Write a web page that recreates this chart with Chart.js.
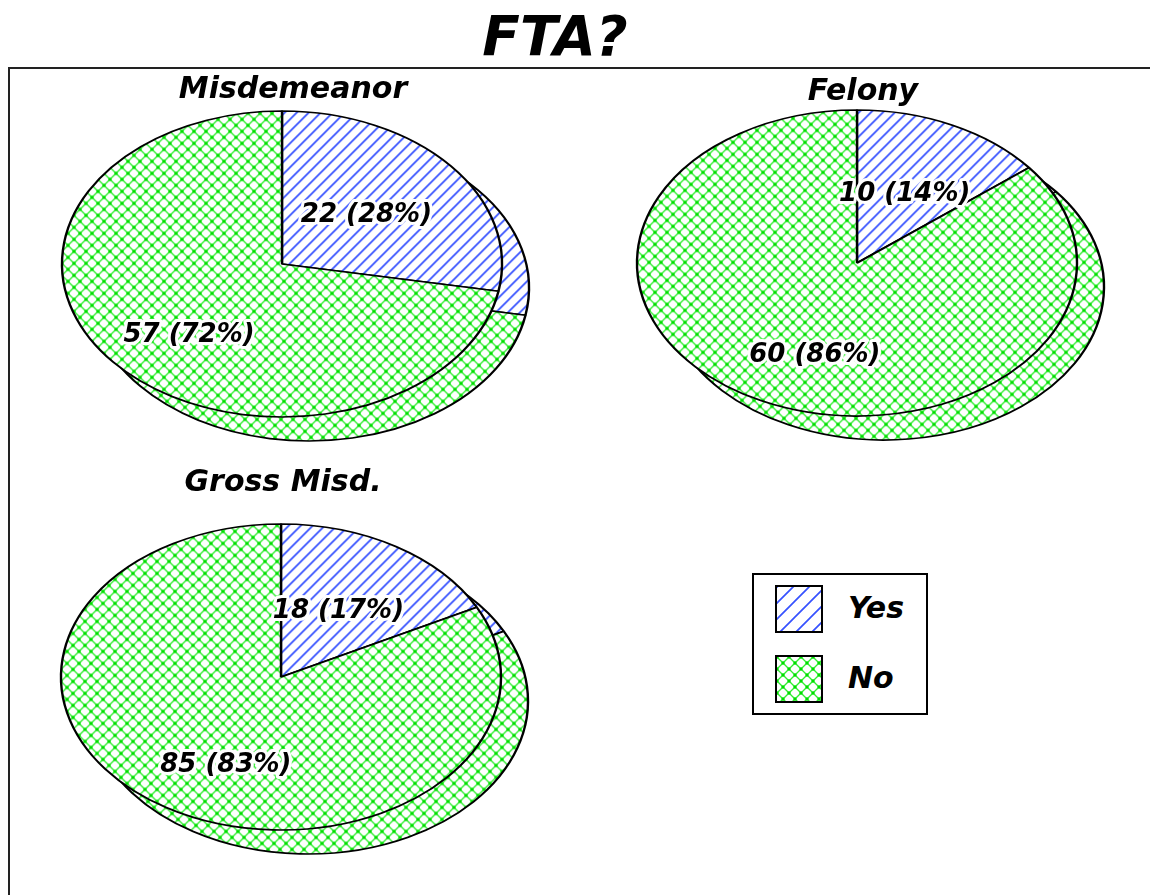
<!DOCTYPE html>
<html>
<head>
<meta charset="utf-8">
<title>FTA?</title>
<script src="https://cdn.jsdelivr.net/npm/chart.js@4.4.0/dist/chart.umd.min.js"></script>
<style>
  html, body { margin: 0; padding: 0; background: #fff; overflow: hidden; }
  body { width: 1150px; height: 895px; position: relative; font-family: 'DejaVu Sans', sans-serif; }
  #main-title { position: absolute; left: 0; top: 5px; width: 1110px; text-align: center;
    font-size: 55px; font-weight: bold; font-style: italic; line-height: 62px; color: #000; }
  #frame { position: absolute; left: 8px; top: 67px; width: 1200px; height: 900px; border: 2px solid #222; }
  canvas.pie { position: absolute; }
  #misd-chart { left: 13px; top: 72px; }
  #felony-chart { left: 583px; top: 74px; }
  #gross-chart { left: 3px; top: 465px; }
  #legend { position: absolute; left: 752px; top: 573px; width: 172px; height: 138px; border: 2px solid #000; background: #fff; }
  .legend-row { position: absolute; left: 21px; height: 48px; }
  .legend-row canvas { position: absolute; left: 0; top: 0; border: 2px solid #000; }
  .legend-row span { position: absolute; left: 73px; top: 0; line-height: 46px; font-size: 30px; font-weight: bold; font-style: italic; }
</style>
</head>
<body>
<div id="main-title">FTA?</div>
<div id="frame"></div>
<canvas id="misd-chart" class="pie" width="560" height="380"></canvas>
<canvas id="felony-chart" class="pie" width="560" height="380"></canvas>
<canvas id="gross-chart" class="pie" width="560" height="400"></canvas>
<div id="legend">
  <div class="legend-row" style="top:10px"><canvas id="swatch-yes" width="44" height="44"></canvas><span>Yes</span></div>
  <div class="legend-row" style="top:80px"><canvas id="swatch-no" width="44" height="44"></canvas><span>No</span></div>
</div>
<script>
// data
const panelTitles = ['Misdemeanor', 'Felony', 'Gross Misd.']
const categories = ['Yes', 'No']
const yesCounts = [22, 10, 18]
const noCounts = [57, 60, 85]

// look of the fake 3d pies
const SQUASH = 153 / 220
const DEPTH_X = 27
const DEPTH_Y = 24
const FONT = "'DejaVu Sans', sans-serif"

const panels = [
    { canvas: 'misd-chart', pieX: 269, pieY: 192 },
    { canvas: 'felony-chart', pieX: 274, pieY: 189 },
    { canvas: 'gross-chart', pieX: 278, pieY: 212 }
]

const hatch = (size, unsquash) => {
    const c = document.createElement('canvas')
    c.width = c.height = size
    const g = c.getContext('2d')
    g.fillStyle = '#fff'
    g.fillRect(0, 0, size, size)
    g.strokeStyle = '#3652ff'
    g.lineWidth = 1.7
    g.beginPath()
    g.moveTo(-1, size + 1); g.lineTo(size + 1, -1)
    g.moveTo(-size / 2, size / 2); g.lineTo(size / 2, -size / 2)
    g.moveTo(size / 2, size * 1.5); g.lineTo(size * 1.5, size / 2)
    g.stroke()
    const p = g.createPattern(c, 'repeat')
    if (unsquash) p.setTransform(new DOMMatrix([1, 0, 0, 1 / SQUASH, 0, 0]))
    return p
}

const crossHatch = (size, unsquash) => {
    const c = document.createElement('canvas')
    c.width = c.height = size
    const g = c.getContext('2d')
    g.fillStyle = '#fff'
    g.fillRect(0, 0, size, size)
    g.strokeStyle = '#30ee30'
    g.lineWidth = 1.35
    g.beginPath()
    g.moveTo(0, 0); g.lineTo(size, size)
    g.moveTo(size, 0); g.lineTo(0, size)
    g.stroke()
    g.fillStyle = '#00dd00'
    for (const [x, y] of [[0, 0], [size, 0], [0, size], [size, size], [size / 2, size / 2]]) {
        g.beginPath()
        g.arc(x, y, 1.7, 0, Math.PI * 2)
        g.fill()
    }
    const p = g.createPattern(c, 'repeat')
    if (unsquash) p.setTransform(new DOMMatrix([1, 0, 0, 1 / SQUASH, 0, 0]))
    return p
}

const yesFill = hatch(12, true)
const noFill = crossHatch(12, true)

// squash the pie into an ellipse and draw a shifted copy behind it
const tilt = {
    id: 'tilt',
    beforeDatasetsDraw(chart, args, opts) {
        const ctx = chart.ctx
        const arcs = chart.getDatasetMeta(0).data
        const cx = arcs[0].x, cy = arcs[0].y
        ctx.save()
        ctx.translate(opts.x, opts.y)
        ctx.scale(1, SQUASH)
        ctx.translate(-cx, -cy)
        ctx.save()
        ctx.translate(DEPTH_X, DEPTH_Y / SQUASH)
        arcs.forEach(a => a.draw(ctx))
        ctx.restore()
    },
    afterDatasetsDraw(chart) {
        chart.ctx.restore()
    }
}

const sliceLabels = {
    id: 'sliceLabels',
    afterDraw(chart, args, opts) {
        const ctx = chart.ctx
        const values = chart.data.datasets[0].data
        const total = values.reduce((a, b) => a + b, 0)
        const radii = [0.5, 0.63]
        const turn = [0, -8 * Math.PI / 180]
        ctx.save()
        ctx.font = 'italic bold 26px ' + FONT
        ctx.textAlign = 'center'
        ctx.textBaseline = 'middle'
        ctx.lineJoin = 'round'
        chart.getDatasetMeta(0).data.forEach((arc, i) => {
            const mid = (arc.startAngle + arc.endAngle) / 2 + turn[i]
            const r = arc.outerRadius * radii[i]
            const x = opts.x + Math.cos(mid) * r
            const y = opts.y + Math.sin(mid) * r * SQUASH
            const text = values[i] + ' (' + Math.round(values[i] / total * 100) + '%)'
            ctx.strokeStyle = '#fff'
            ctx.lineWidth = 6
            ctx.strokeText(text, x, y)
            ctx.fillStyle = '#000'
            ctx.fillText(text, x, y)
        })
        ctx.restore()
    }
}

panels.forEach((panel, i) => {
    const ctx = document.getElementById(panel.canvas).getContext('2d')
    new Chart(ctx, {
        type: 'pie',
        data: {
            labels: categories,
            datasets: [{
                data: [yesCounts[i], noCounts[i]],
                backgroundColor: [yesFill, noFill],
                borderColor: '#000',
                borderWidth: 2.4,
                radius: 220,
                clip: false
            }]
        },
        options: {
            responsive: false,
            animation: false,
            events: [],
            plugins: {
                legend: { display: false },
                tooltip: { enabled: false },
                title: {
                    display: true,
                    text: panelTitles[i],
                    color: '#000',
                    font: { family: FONT, size: 30, weight: 'bold', style: 'italic' },
                    padding: { top: 0, bottom: 0 }
                },
                tilt: { x: panel.pieX, y: panel.pieY },
                sliceLabels: { x: panel.pieX, y: panel.pieY }
            }
        },
        plugins: [tilt, sliceLabels]
    })
})

// legend swatches use the same fills
const swatch = (id, fill) => {
    const g = document.getElementById(id).getContext('2d')
    g.fillStyle = fill
    g.fillRect(0, 0, 44, 44)
}
swatch('swatch-yes', hatch(16, false))
swatch('swatch-no', crossHatch(12, false))
</script>
</body>
</html>
